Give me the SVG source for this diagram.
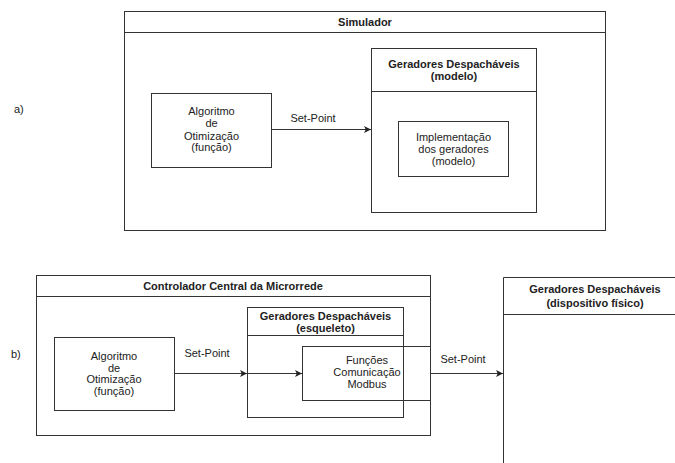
<svg xmlns="http://www.w3.org/2000/svg" width="675" height="463" viewBox="0 0 675 463">
<defs>
<style>
.box{fill:none;stroke:#333;stroke-width:1}
.ln{fill:none;stroke:#333;stroke-width:1}
text{font-family:"Liberation Sans",Arial,sans-serif;font-size:11px;fill:#222;text-anchor:middle;dominant-baseline:central}
.b{font-weight:bold}
.lab{font-size:11px;text-anchor:start}
</style>
<marker id="arr" viewBox="0 0 10 10" refX="10" refY="5" markerWidth="7" markerHeight="7" orient="auto" markerUnits="userSpaceOnUse">
<path d="M0,0 L10,5 L0,10 L2.5,5 Z" fill="#222"/>
</marker>
</defs>
<rect width="675" height="463" fill="#fff"/>
<text class="lab" x="14" y="109">a)</text>
<text class="lab" x="11" y="354">b)</text>

<g id="simulador">
<rect class="box" x="124.5" y="11.5" width="481" height="219"/>
<line class="ln" x1="124.5" y1="32.5" x2="605.5" y2="32.5"/>
<text class="b" x="365" y="21.5">Simulador</text>
</g>
<g id="algoritmo-a">
<rect class="box" x="151.5" y="93.5" width="120" height="74"/>
<text x="211.5" y="111">Algoritmo</text>
<text x="211.5" y="123">de</text>
<text x="211.5" y="135.5">Otimização</text>
<text x="211.5" y="147">(função)</text>
</g>
<g id="geradores-modelo">
<rect class="box" x="371.5" y="48.5" width="165" height="164"/>
<line class="ln" x1="371.5" y1="91.5" x2="536.5" y2="91.5"/>
<text class="b" x="454" y="64">Geradores Despacháveis</text>
<text class="b" x="454" y="76">(modelo)</text>
</g>
<g id="implementacao">
<rect class="box" x="398.5" y="121.5" width="110" height="55"/>
<text x="453.5" y="137">Implementação</text>
<text x="453.5" y="148.5">dos geradores</text>
<text x="453.5" y="160.5">(modelo)</text>
</g>

<g id="controlador">
<rect class="box" x="36.5" y="275.5" width="394" height="160"/>
<line class="ln" x1="36.5" y1="296.5" x2="430.5" y2="296.5"/>
<text class="b" x="233" y="285.5">Controlador Central da Microrrede</text>
</g>
<g id="algoritmo-b">
<rect class="box" x="54.5" y="337.5" width="120" height="73"/>
<text x="114" y="355.5">Algoritmo</text>
<text x="114" y="367.5">de</text>
<text x="114" y="379">Otimização</text>
<text x="114" y="391">(função)</text>
</g>
<g id="geradores-esqueleto">
<rect class="box" x="247.5" y="307.5" width="156" height="110"/>
<line class="ln" x1="247.5" y1="335.5" x2="403.5" y2="335.5"/>
<text class="b" x="325.5" y="316">Geradores Despacháveis</text>
<text class="b" x="325.5" y="328">(esqueleto)</text>
</g>
<g id="funcoes">
<rect class="box" x="302.5" y="346.5" width="128" height="54"/>
<text x="367" y="360">Funções</text>
<text x="367" y="372">Comunicação</text>
<text x="367" y="384">Modbus</text>
</g>
<g id="geradores-fisico">
<path class="ln" d="M503.5,463 V277.5 H690"/>
<line class="ln" x1="503.5" y1="314.5" x2="690" y2="314.5"/>
<text class="b" x="595" y="289">Geradores Despacháveis</text>
<text class="b" x="595" y="302.5">(dispositivo físico)</text>
</g>

<g id="connectors">
<line class="ln" x1="271.5" y1="129.5" x2="371" y2="129.5" marker-end="url(#arr)"/>
<text x="313" y="118">Set-Point</text>
<line class="ln" x1="174.5" y1="373.5" x2="247" y2="373.5" marker-end="url(#arr)"/>
<text x="207" y="353">Set-Point</text>
<line class="ln" x1="247.5" y1="373.5" x2="302" y2="373.5" marker-end="url(#arr)"/>
<line class="ln" x1="430.5" y1="373.5" x2="503" y2="373.5" marker-end="url(#arr)"/>
<text x="463" y="359">Set-Point</text>
</g>
</svg>
